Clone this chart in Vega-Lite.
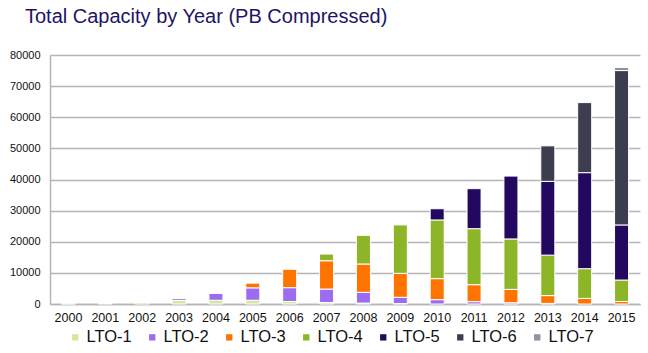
{
  "$schema": "https://vega.github.io/schema/vega-lite/v6.json",
  "autosize": {"type": "none"},
  "padding": {"left": 50, "top": 55, "right": 8, "bottom": 49},
  "width": 590,
  "height": 249,
  "background": "white",
  "title": {
    "text": "Total Capacity by Year (PB Compressed)",
    "anchor": "start",
    "frame": "group",
    "dx": -25,
    "offset": 22,
    "font": "Liberation Sans, Arial",
    "fontSize": 20,
    "fontWeight": "normal",
    "color": "#1e1565"
  },
  "data": {
    "values": [
      {"year": "2000", "type": "LTO-1", "value": 50},
      {"year": "2001", "type": "LTO-1", "value": 150},
      {"year": "2002", "type": "LTO-1", "value": 500},
      {"year": "2003", "type": "LTO-1", "value": 1100},
      {"year": "2003", "type": "LTO-2", "value": 600},
      {"year": "2004", "type": "LTO-1", "value": 1200},
      {"year": "2004", "type": "LTO-2", "value": 2200},
      {"year": "2005", "type": "LTO-1", "value": 1200},
      {"year": "2005", "type": "LTO-2", "value": 4000},
      {"year": "2005", "type": "LTO-3", "value": 1500},
      {"year": "2006", "type": "LTO-1", "value": 800},
      {"year": "2006", "type": "LTO-2", "value": 4450},
      {"year": "2006", "type": "LTO-3", "value": 5900},
      {"year": "2007", "type": "LTO-1", "value": 500},
      {"year": "2007", "type": "LTO-2", "value": 4300},
      {"year": "2007", "type": "LTO-3", "value": 9100},
      {"year": "2007", "type": "LTO-4", "value": 2150},
      {"year": "2008", "type": "LTO-1", "value": 300},
      {"year": "2008", "type": "LTO-2", "value": 3450},
      {"year": "2008", "type": "LTO-3", "value": 9100},
      {"year": "2008", "type": "LTO-4", "value": 9200},
      {"year": "2009", "type": "LTO-1", "value": 150},
      {"year": "2009", "type": "LTO-2", "value": 2000},
      {"year": "2009", "type": "LTO-3", "value": 7700},
      {"year": "2009", "type": "LTO-4", "value": 15550},
      {"year": "2010", "type": "LTO-2", "value": 1400},
      {"year": "2010", "type": "LTO-3", "value": 6750},
      {"year": "2010", "type": "LTO-4", "value": 18850},
      {"year": "2010", "type": "LTO-5", "value": 3600},
      {"year": "2011", "type": "LTO-2", "value": 750},
      {"year": "2011", "type": "LTO-3", "value": 5450},
      {"year": "2011", "type": "LTO-4", "value": 18000},
      {"year": "2011", "type": "LTO-5", "value": 12850},
      {"year": "2012", "type": "LTO-2", "value": 400},
      {"year": "2012", "type": "LTO-3", "value": 4300},
      {"year": "2012", "type": "LTO-4", "value": 16200},
      {"year": "2012", "type": "LTO-5", "value": 20200},
      {"year": "2013", "type": "LTO-2", "value": 200},
      {"year": "2013", "type": "LTO-3", "value": 2500},
      {"year": "2013", "type": "LTO-4", "value": 13000},
      {"year": "2013", "type": "LTO-5", "value": 23700},
      {"year": "2013", "type": "LTO-6", "value": 11400},
      {"year": "2014", "type": "LTO-3", "value": 1800},
      {"year": "2014", "type": "LTO-4", "value": 9550},
      {"year": "2014", "type": "LTO-5", "value": 30850},
      {"year": "2014", "type": "LTO-6", "value": 22500},
      {"year": "2015", "type": "LTO-3", "value": 800},
      {"year": "2015", "type": "LTO-4", "value": 6900},
      {"year": "2015", "type": "LTO-5", "value": 17700},
      {"year": "2015", "type": "LTO-6", "value": 49600},
      {"year": "2015", "type": "LTO-7", "value": 1000}
    ]
  },
  "mark": {"type": "bar", "stroke": "white", "strokeWidth": 1},
  "encoding": {
    "x": {
      "field": "year",
      "type": "ordinal",
      "scale": {"paddingInner": 0.62, "paddingOuter": 0.31},
      "axis": {
        "title": null,
        "labelAngle": 0,
        "ticks": false,
        "domainColor": "#b5b5b5",
        "domainWidth": 1.5,
        "labelFont": "Liberation Sans, Arial",
        "labelFontSize": 12.5,
        "labelColor": "#111111",
        "labelPadding": 7
      }
    },
    "y": {
      "field": "value",
      "type": "quantitative",
      "stack": "zero",
      "scale": {"domain": [0, 80000], "nice": false},
      "axis": {
        "title": null,
        "values": [0, 10000, 20000, 30000, 40000, 50000, 60000, 70000, 80000],
        "format": "d",
        "ticks": false,
        "grid": true,
        "gridColor": "#b5b5b5",
        "gridWidth": 1.5,
        "domainColor": "#b5b5b5",
        "domainWidth": 1.5,
        "labelFont": "Liberation Sans, Arial",
        "labelFontSize": 11,
        "labelColor": "#111111",
        "labelPadding": 10
      }
    },
    "color": {
      "field": "type",
      "type": "nominal",
      "scale": {
        "domain": ["LTO-1", "LTO-2", "LTO-3", "LTO-4", "LTO-5", "LTO-6", "LTO-7"],
        "range": ["#d5e89a", "#9b6cf0", "#ff7300", "#8cb527", "#22085e", "#3c3d4e", "#8f91a0"]
      },
      "legend": {
        "title": null,
        "orient": "none",
        "legendX": 17,
        "legendY": 274,
        "direction": "horizontal",
        "symbolType": "square",
        "symbolSize": 40,
        "symbolStrokeWidth": 0,
        "labelFont": "Liberation Sans, Arial",
        "labelFontSize": 16.5,
        "labelColor": "#111111",
        "labelOffset": 3,
        "columnPadding": 12
      }
    },
    "order": {"field": "type", "sort": "ascending"}
  },
  "config": {"view": {"stroke": null}}
}
